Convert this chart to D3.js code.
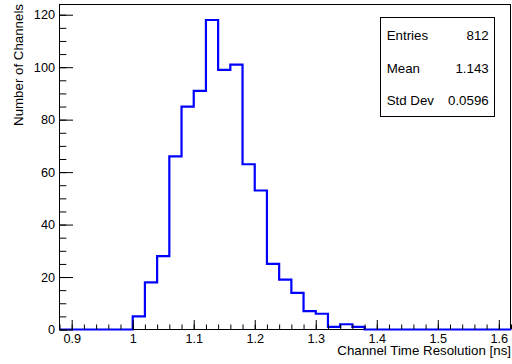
<!DOCTYPE html>
<html><head><meta charset="utf-8">
<script src="https://cdn.jsdelivr.net/npm/d3@7"></script>
<style>
html,body{margin:0;padding:0;background:#fff;}
svg{display:block;}
text{font-family:"Liberation Sans",Arial,Helvetica,sans-serif;fill:#000;}
</style></head>
<body>
<svg id="c" width="512" height="364"></svg>
<script>
// ---- data ----
const binEdges = [0.88,0.90,0.92,0.94,0.96,0.98,1.00,1.02,1.04,1.06,1.08,1.10,1.12,1.14,1.16,1.18,1.20,1.22,1.24,1.26,1.28,1.30,1.32,1.34,1.36,1.38,1.40,1.42,1.44,1.46,1.48,1.50,1.52,1.54,1.56,1.58,1.60,1.62];
const counts   = [0,0,0,0,0,0,5,18,28,66,85,91,118,99,101,63,53,25,19,14,7,6,1,2,1,0,0,0,0,0,0,0,0,0,0,0,0];
const xTicks = [0.9,1.0,1.1,1.2,1.3,1.4,1.5,1.6];
const xTickLabels = ["0.9","1","1.1","1.2","1.3","1.4","1.5","1.6"];
const yTicks = [0,20,40,60,80,100,120];
const yTickLabels = ["0","20","40","60","80","100","120"];
const statNames = ["Entries","Mean","Std Dev"];
const statValues = ["812","1.143","0.0596"];
const xTitle = "Channel Time Resolution [ns]";
const yTitle = "Number of Channels";

// ---- layout ----
const svg = d3.select("#c");
const L = 59.5, R = 511, T = 4.5, B = 329.5;
const xMin = binEdges[0], xMax = binEdges[binEdges.length-1];
const yMax = d3.max(counts) * 1.05;
const x = d3.scaleLinear().domain([xMin, xMax]).range([L, R]);
const y = d3.scaleLinear().domain([0, yMax]).range([B, T]);

const tickFont = 12.7, titleFont = 13.3;

// frame
svg.append("rect").attr("x", L).attr("y", T).attr("width", 510.5 - L).attr("height", B - T)
  .attr("fill", "none").attr("stroke", "#000").attr("stroke-width", 1);

// histogram
const pts = [];
counts.forEach((c, i) => { pts.push([binEdges[i], c]); pts.push([binEdges[i+1], c]); });
svg.append("path").datum(pts)
  .attr("d", d3.line().x(d => x(d[0])).y(d => y(d[1])))
  .attr("fill", "none").attr("stroke", "#0000ff").attr("stroke-width", 2.2)
  .attr("stroke-linejoin", "miter");

// x minor ticks
const xMinor = [];
for (let v = 0.88; v <= 1.6201; v += 0.02) xMinor.push(+v.toFixed(2));
const gxm = svg.append("g").attr("transform", `translate(0,${B})`)
  .call(d3.axisBottom(x).tickValues(xMinor).tickSize(-5).tickFormat(""));
// x major
const gx = svg.append("g").attr("transform", `translate(0,${B})`)
  .call(d3.axisBottom(x).tickValues(xTicks).tickSize(-9.5).tickPadding(4.1)
    .tickFormat((d, i) => xTickLabels[i]));
[gxm, gx].forEach(g => { g.select(".domain").remove(); g.selectAll("line").attr("stroke", "#000"); });
gx.selectAll("text").attr("font-size", tickFont).attr("font-family", null).attr("fill", "#000");
gx.attr("font-family", null);

// y minor ticks
const yMinor = [];
for (let v = 0; v <= 120; v += 5) yMinor.push(v);
const gym = svg.append("g").attr("transform", `translate(${L},0)`)
  .call(d3.axisLeft(y).tickValues(yMinor).tickSize(-6.8).tickFormat(""));
const gy = svg.append("g").attr("transform", `translate(${L},0)`)
  .call(d3.axisLeft(y).tickValues(yTicks).tickSize(-13.5).tickPadding(4.5)
    .tickFormat((d, i) => yTickLabels[i]));
[gym, gy].forEach(g => { g.select(".domain").remove(); g.selectAll("line").attr("stroke", "#000"); g.attr("font-family", null); });
gy.selectAll("text").attr("font-size", tickFont).attr("fill", "#000");

// axis titles
svg.append("text").attr("x", 511).attr("y", 355).attr("text-anchor", "end")
  .attr("font-size", titleFont).text(xTitle);
svg.append("text").attr("transform", "translate(23,4) rotate(-90)").attr("text-anchor", "end")
  .attr("font-size", titleFont).text(yTitle);

// stats box
svg.append("rect").attr("x", 380.5).attr("y", 17.5).attr("width", 114).attr("height", 99)
  .attr("fill", "#fff").attr("stroke", "#000").attr("stroke-width", 1);
const baselines = [40, 72.7, 105];
statNames.forEach((n, i) => {
  svg.append("text").attr("x", 386.7).attr("y", baselines[i]).attr("font-size", titleFont).text(n);
  svg.append("text").attr("x", 488.7).attr("y", baselines[i]).attr("text-anchor", "end")
    .attr("font-size", titleFont).text(statValues[i]);
});
</script>
</body></html>
